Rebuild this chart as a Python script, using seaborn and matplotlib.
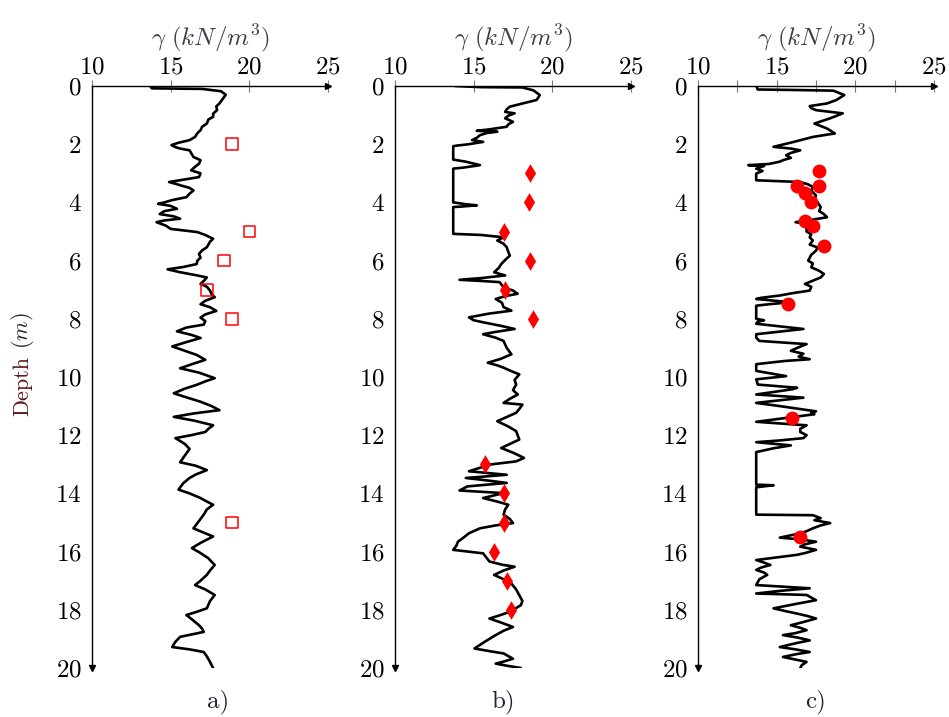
import numpy as np
import pandas as pd
import matplotlib
matplotlib.use("Agg")
import matplotlib.pyplot as plt
from matplotlib.ticker import MultipleLocator
import seaborn as sns

# unit weight profiles (depth in m, gamma in kN/m3)
depth_a = [0.0, 0.08, 0.1, 0.18, 0.3, 0.45, 0.6, 0.7, 0.83, 0.95, 1.06, 1.15, 1.29, 1.4, 1.52, 1.62, 1.75, 1.86,
           1.95, 2.03, 2.1, 2.15, 2.21, 2.3, 2.44, 2.55, 2.67, 2.8, 2.9, 3.0, 3.13, 3.22, 3.3, 3.36, 3.41, 3.5,
           3.59, 3.7, 3.82, 3.92, 4.0, 4.05, 4.12, 4.22, 4.3, 4.4, 4.48, 4.56, 4.62, 4.68, 4.8, 4.91, 5.02, 5.12,
           5.25, 5.35, 5.45, 5.54, 5.65, 5.77, 5.9, 6.0, 6.12, 6.22, 6.3, 6.35, 6.4, 6.5, 6.58, 6.7, 6.8, 6.9,
           7.03, 7.15, 7.26, 7.38, 7.5, 7.6, 7.73, 7.85, 7.96, 8.08, 8.2, 8.3, 8.43, 8.55, 8.66, 8.8, 8.95, 9.1,
           9.24, 9.41, 9.55, 9.7, 9.85, 10.04, 10.15, 10.27, 10.4, 10.56, 10.7, 10.85, 11.0, 11.14, 11.25, 11.37,
           11.5, 11.66, 11.78, 11.89, 12.0, 12.1, 12.3, 12.47, 12.7, 12.93, 13.05, 13.2, 13.35, 13.47, 13.65,
           13.87, 14.0, 14.16, 14.28, 14.39, 14.55, 14.73, 14.95, 15.2, 15.35, 15.48, 15.7, 15.88, 16.05, 16.23,
           16.35, 16.46, 16.65, 16.8, 17.0, 17.15, 17.3, 17.49, 17.7, 17.95, 18.08, 18.18, 18.35, 18.53, 18.65,
           18.76, 18.85, 18.93, 19.1, 19.28, 19.36, 19.45, 19.6, 19.79, 19.9, 20.0]
gamma_a = [13.7, 13.8, 17.0, 18.2, 18.5, 18.3, 18.1, 17.9, 17.95, 17.7, 17.7, 17.4, 17.3, 17.0, 16.9, 16.7, 16.55, 16.2,
           15.5, 15.05, 15.3, 15.6, 16.2, 16.3, 16.45, 16.9, 16.8, 16.5, 16.3, 16.9, 16.8, 15.8, 14.9, 15.3, 15.6, 16.2,
           16.45, 16.2, 16.0, 15.1, 14.6, 14.2, 15.0, 15.4, 14.6, 14.3, 15.2, 15.6, 14.6, 14.1, 14.7, 15.0, 16.7, 17.2,
           17.7, 17.5, 17.4, 17.3, 17.0, 16.8, 16.9, 16.7, 16.65, 15.8, 14.8, 15.2, 15.6, 16.6, 17.3, 17.1, 16.9, 17.3,
           17.5, 17.6, 17.8, 17.2, 16.9, 17.5, 17.9, 17.2, 16.9, 17.2, 17.1, 16.0, 15.4, 16.3, 16.9, 16.0, 15.1, 15.9,
           16.65, 17.2, 16.4, 15.6, 16.8, 17.8, 17.2, 16.65, 15.9, 15.2, 16.0, 16.9, 17.6, 18.1, 16.5, 15.2,
           16.5, 17.7, 17.4, 17.2, 16.3, 15.3, 15.9, 16.2, 15.9, 15.6, 16.6, 17.3, 16.6, 16.2, 15.8,
           15.5, 16.2, 16.9, 17.3, 17.7, 17.3, 17.1, 16.8, 16.45, 17.1, 17.7, 16.9, 16.35, 16.9, 17.4,
           17.6, 17.8, 17.5, 17.3, 16.9, 16.55, 17.2, 17.8, 17.5, 17.3, 16.6, 16.0, 16.4, 16.8, 17.0,
           17.1, 16.3, 15.6, 15.3, 15.1, 16.2, 17.1, 17.3, 17.5, 17.6, 17.7]

depth_b = [0.0, 0.04, 0.05, 0.15, 0.31, 0.4, 0.48, 0.6, 0.71, 0.8, 0.89, 0.94, 1.02, 1.11, 1.23, 1.32, 1.4, 1.49,
           1.54, 1.57, 1.62, 1.69, 1.78, 1.86, 1.92, 2.0, 2.05, 2.07, 2.53, 2.6, 2.72, 2.8, 2.84, 4.0, 4.07, 4.1,
           4.14, 4.16, 5.08, 5.12, 5.2, 5.31, 5.42, 5.54, 5.7, 5.83, 5.98, 6.12, 6.25, 6.4, 6.51, 6.6, 6.66, 6.7,
           6.74, 6.92, 7.03, 7.14, 7.22, 7.32, 7.45, 7.6, 7.72, 7.82, 7.95, 8.05, 8.12, 8.25, 8.35, 8.45, 8.53,
           8.65, 8.76, 9.0, 9.22, 9.38, 9.51, 9.6, 9.68, 9.8, 9.91, 10.1, 10.26, 10.45, 10.6, 10.75, 10.89, 10.95,
           11.1, 11.23, 11.4, 11.52, 11.7, 11.86, 12.0, 12.15, 12.3, 12.44, 12.6, 12.78, 12.9, 13.01, 13.12,
           13.24, 13.36, 13.47, 13.55, 13.64, 13.76, 13.9, 13.99, 14.08, 14.16, 14.28, 14.39, 14.55, 14.73,
           14.88, 15.02, 15.1, 15.2, 15.37, 15.5, 15.66, 15.8, 15.94, 16.06, 16.2, 16.34, 16.45, 16.52, 16.65,
           16.8, 16.95, 17.1, 17.3, 17.5, 17.7, 17.84, 18.07, 18.2, 18.3, 18.45, 18.59, 18.72, 18.87, 19.1,
           19.33, 19.42, 19.5, 19.68, 19.78, 19.85, 19.93, 20.0]
gamma_b = [13.8, 15.5, 18.1, 18.8, 19.2, 19.1, 19.0, 18.1, 17.3, 17.1, 17.0, 17.6, 17.2, 17.0, 17.5, 17.2, 17.1, 16.0,
           15.2, 16.5, 15.8, 15.4, 15.2, 14.9, 15.6, 14.7, 13.9, 13.7, 13.7, 14.5, 15.4, 14.4, 13.7, 13.7, 14.6, 15.2,
           14.3, 13.7, 13.7, 15.5, 16.9, 16.5, 16.9, 17.1, 17.2, 17.3, 17.0, 16.75, 16.6, 16.3, 17.0, 15.5, 14.1, 15.5,
           16.65, 16.9, 17.5, 17.8, 17.0, 16.4, 16.8, 16.9, 17.4, 16.0, 14.7, 15.0, 15.6, 16.8, 17.6, 16.4, 15.6,
           16.4, 16.9, 17.1, 17.4, 16.7, 15.9, 16.5, 16.9, 17.4, 17.9, 17.6, 17.7, 17.5, 17.8, 17.3, 16.9, 18.1,
           17.9, 17.7, 17.0, 16.5, 17.2, 17.7, 17.8, 17.9, 17.3, 16.75, 17.5, 18.2, 17.7, 16.0, 15.4,
           14.7, 17.1, 14.5, 15.8, 17.1, 14.6, 14.1, 16.9, 16.2, 15.6, 16.5, 17.2, 17.0, 16.9,
           17.3, 17.5, 16.4, 15.4, 14.7, 14.4, 14.0, 13.9, 13.7, 15.6, 15.8, 16.0, 16.8, 17.6, 16.9,
           16.3, 16.9, 17.4, 17.7, 17.9, 18.1, 18.0, 17.3, 16.6, 16.0, 16.8, 17.5, 16.9, 16.4, 15.7,
           15.05, 16.0, 16.9, 17.5, 16.9, 16.4, 17.2, 18.0]

depth_c = [0.0, 0.12, 0.14, 0.16, 0.31, 0.48, 0.6, 0.69, 0.76, 0.83, 0.94, 1.11, 1.29, 1.46, 1.63, 1.75, 1.92, 2.09,
           2.15, 2.21, 2.3, 2.38, 2.47, 2.55, 2.6, 2.68, 2.72, 2.75, 2.84, 2.92, 3.01, 3.24, 3.3, 3.38, 3.47, 3.6,
           3.76, 3.9, 4.0, 4.16, 4.3, 4.4, 4.51, 4.6, 4.68, 4.75, 4.85, 5.0, 5.1, 5.2, 5.31, 5.45, 5.55, 5.66, 5.8,
           6.0, 6.1, 6.23, 6.35, 6.46, 6.58, 6.69, 6.8, 6.9, 7.03, 7.12, 7.2, 7.28, 7.32, 7.43, 7.5, 7.55, 8.0,
           8.05, 8.1, 8.17, 8.35, 8.45, 8.53, 8.65, 8.76, 8.87, 9.0, 9.1, 9.2, 9.3, 9.39, 9.45, 9.56, 9.79, 9.97,
           10.04, 10.08, 10.26, 10.37, 10.42, 10.5, 10.6, 10.71, 10.8, 10.89, 11.0, 11.18, 11.22, 11.28, 11.37,
           11.46, 11.54, 11.66, 11.78, 11.89, 12.0, 12.1, 12.18, 12.24, 12.35, 12.45, 12.58, 13.7, 13.72, 13.79,
           14.73, 14.75, 14.85, 14.92, 15.02, 15.1, 15.2, 15.3, 15.37, 15.45, 15.52, 15.58, 15.66, 15.75, 15.83,
           15.94, 16.05, 16.11, 16.2, 16.29, 16.38, 16.46, 16.55, 16.63, 16.72, 16.8, 16.95, 17.15, 17.26, 17.35,
           17.44, 17.49, 17.58, 17.67, 17.8, 17.95, 18.05, 18.13, 18.22, 18.3, 18.42, 18.53, 18.62, 18.7, 18.8,
           18.87, 18.95, 19.05, 19.15, 19.28, 19.36, 19.45, 19.52, 19.62, 19.7, 19.79, 19.9, 20.0]
gamma_c = [13.7, 13.8, 16.5, 18.6, 19.3, 18.8, 18.2, 17.1, 17.2, 17.5, 19.2, 18.4, 17.4, 18.2, 18.7, 17.3, 16.1, 14.8,
           15.9, 16.5, 15.9, 15.6, 15.9, 15.4, 15.2, 14.5, 13.2, 14.2, 13.7, 14.1, 13.7, 13.7, 16.5, 17.0, 17.3, 17.2,
           17.5, 17.4, 17.6, 17.8, 17.7, 18.0, 18.2, 17.2, 16.2, 17.0, 16.9, 16.9, 17.2, 17.1, 17.3, 17.1, 17.6, 17.5, 17.2,
           17.0, 17.3, 17.2, 17.7, 18.0, 17.8, 17.3, 16.8, 17.2, 17.1, 16.0, 15.2, 14.0, 13.7, 15.9, 14.5, 13.7, 13.7,
           14.2, 13.8, 13.7, 16.7, 15.0, 13.7, 13.7, 13.9, 16.9, 16.3, 15.9, 16.7, 16.4, 17.1, 15.5, 13.7, 13.7, 15.6,
           14.4, 13.7, 13.8, 16.3, 16.0, 15.0, 13.7, 16.7, 15.2, 13.7, 15.2, 17.5, 17.2, 17.4, 16.1,
           14.8, 13.7, 16.9, 16.5, 16.5, 16.9, 16.7, 15.2, 13.7, 15.9, 14.8, 13.7, 13.7, 14.8, 13.7,
           13.7, 17.3, 17.8, 17.4, 18.4, 17.8, 17.3, 16.9, 16.5, 15.8, 15.2, 16.5, 17.5, 16.8, 16.5,
           17.5, 16.8, 16.3, 15.0, 13.7, 14.2, 14.6, 14.0, 13.7, 14.2, 14.4, 13.9, 13.7, 17.1, 15.2,
           13.7, 16.9, 17.2, 17.5, 16.2, 14.8, 15.6, 16.3, 17.0, 17.5, 16.7, 15.9, 16.5, 16.9, 16.2,
           15.4, 16.3, 17.1, 16.2, 15.2, 16.2, 17.1, 16.3, 15.4, 16.1, 16.9, 16.6, 16.5]

# measured points
pts_a_depth = [2, 5, 6, 7, 8, 15]
pts_a_gamma = [18.9, 20.0, 18.4, 17.3, 18.9, 18.9]
pts_b_depth = [3, 4, 5, 6, 7, 8, 13, 14, 15, 16, 17, 18]
pts_b_gamma = [18.6, 18.5, 16.9, 18.6, 17.0, 18.8, 15.7, 16.9, 16.9, 16.3, 17.1, 17.4]
pts_c_depth = [2.92, 3.44, 3.44, 3.68, 3.98, 4.64, 4.81, 5.5, 7.5, 11.4, 15.5]
pts_c_gamma = [17.7, 17.7, 16.3, 16.8, 17.2, 16.8, 17.3, 18.0, 15.7, 16.0, 16.5]

panel_tags = ["a)", "b)", "c)"]

sns.set_style("white")
plt.rcParams["font.family"] = "serif"
plt.rcParams["font.serif"] = ["cmr10", "DejaVu Serif"]
plt.rcParams["mathtext.fontset"] = "cm"
plt.rcParams["axes.formatter.use_mathtext"] = True

fig = plt.figure(figsize=(9.49, 7.17), dpi=100)
lefts = [92 / 949, 395 / 949, 698 / 949]
width = 236 / 949
bottom = 1 - 668 / 717
height = 582 / 717

profiles = [(depth_a, gamma_a), (depth_b, gamma_b), (depth_c, gamma_c)]
points = [(pts_a_depth, pts_a_gamma, "s"), (pts_b_depth, pts_b_gamma, "d"), (pts_c_depth, pts_c_gamma, "o")]

fs = 18
for i in range(3):
    ax = fig.add_axes([lefts[i], bottom, width, height])
    prof = pd.DataFrame({"depth": profiles[i][0], "gamma": profiles[i][1]})
    sns.lineplot(data=prof, x="gamma", y="depth", sort=False, estimator=None,
                 color="black", lw=1.9, ax=ax)
    pd_, pg_, mk = points[i]
    dots = pd.DataFrame({"depth": pd_, "gamma": pg_})
    if mk == "s":
        sns.scatterplot(data=dots, x="gamma", y="depth", marker="s", s=70,
                        facecolor="none", edgecolor="red", linewidth=1.1, ax=ax, zorder=3)
    elif mk == "d":
        sns.scatterplot(data=dots, x="gamma", y="depth", marker="d", s=90,
                        color="red", edgecolor="red", linewidth=0, ax=ax, zorder=3)
    else:
        sns.scatterplot(data=dots, x="gamma", y="depth", marker="o", s=100,
                        color="red", edgecolor="red", linewidth=0, ax=ax, zorder=3)

    ax.set_xlim(10, 25)
    ax.set_ylim(20, 0)
    ax.xaxis.tick_top()
    ax.xaxis.set_label_position("top")
    ax.set_xticks([10, 15, 20, 25])
    ax.set_yticks(range(0, 21, 2))
    if i == 2:
        ax.xaxis.set_minor_locator(MultipleLocator(2.5))
        ax.yaxis.set_minor_locator(MultipleLocator(1))
    ax.tick_params(which="both", direction="inout", length=9, width=0.8, color="#777777",
                   labelsize=fs, labelcolor="black", pad=1)
    ax.tick_params(axis="y", pad=3)
    ax.set_xlabel(r"$\gamma\ (kN/m^3)$", fontsize=fs, color="#3a3f4a", labelpad=8)
    ax.set_ylabel("")
    for side in ["right", "bottom"]:
        ax.spines[side].set_visible(False)
    for side in ["left", "top"]:
        ax.spines[side].set_color("black")
        ax.spines[side].set_linewidth(1.0)
    ax.plot(1, 1, ">", color="black", ms=5, transform=ax.transAxes, clip_on=False)
    ax.plot(0, 0, "v", color="black", ms=5, transform=ax.transAxes, clip_on=False)
    ax.patch.set_alpha(0)

fig.text(0.024, 1 - 386 / 717, "Depth", rotation=90, ha="center", va="center",
         fontsize=16, color="#5c1a1a")
fig.text(0.024, 1 - 331 / 717, r"$(m)$", rotation=90, ha="center", va="center",
         fontsize=16, color="#1f2233")

tag_x = [218, 503, 815]
for tx, tag in zip(tag_x, panel_tags):
    fig.text(tx / 949, 1 - 702 / 717, tag, ha="center", va="center", fontsize=fs, color="#1f2233")

fig.savefig("out.png", dpi=100)
